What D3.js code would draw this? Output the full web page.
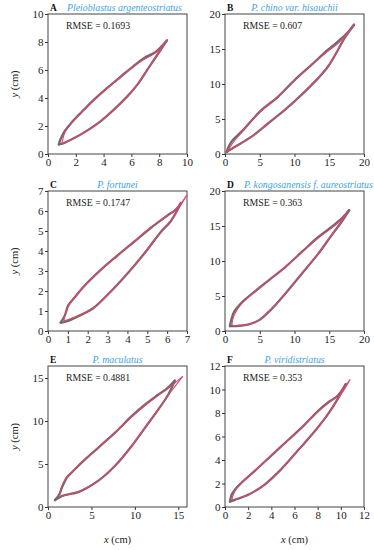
<!DOCTYPE html>
<html>
<head>
<meta charset="utf-8">
<script src="https://cdn.jsdelivr.net/npm/d3@7"></script>
<style>
  body { margin: 0; background: #fff; }
  svg text { font-family: "Liberation Serif", "Times New Roman", serif; }
</style>
</head>
<body>
<svg id="chart" width="374" height="550"></svg>
<script>
// panel info
const letters = ["A", "B", "C", "D", "E", "F"];
const species = ["Pleioblastus argenteostriatus", "P. chino var. hisauchii", "P. fortunei",
  "P. kongosanensis f. aureostriatus", "P. maculatus", "P. viridistriatus"];
const rmse = ["0.1693", "0.607", "0.1747", "0.363", "0.4881", "0.353"];
const xMax = [10, 20, 7, 20, 16, 12];
const yMax = [10, 20, 7, 20, 16.4, 12];
const xTicks = [[0, 2, 4, 6, 8, 10], [0, 5, 10, 15, 20], [0, 1, 2, 3, 4, 5, 6, 7],
  [0, 5, 10, 15, 20], [0, 5, 10, 15], [0, 2, 4, 6, 8, 10, 12]];
const yTicks = [[0, 2, 4, 6, 8, 10], [0, 5, 10, 15, 20], [0, 1, 2, 3, 4, 5, 6, 7],
  [0, 5, 10, 15, 20], [0, 5, 10, 15], [0, 2, 4, 6, 8, 10, 12]];

// observed leaf edges (gray), base -> tip
const obsUpperA = [[0.78,0.69],[0.9,1.05],[1.21,1.65],[1.7,2.25],[2.42,3.0],[3.27,3.85],[4.24,4.7],[5.2,5.5],[6.17,6.3],[6.9,6.85],[7.75,7.3],[8.55,8.1]];
const obsLowerA = [[0.78,0.69],[1.09,0.76],[1.82,1.1],[2.78,1.65],[3.75,2.31],[4.72,3.15],[5.69,4.1],[6.42,4.94],[7.14,6.01],[7.87,7.09],[8.55,8.1]];
const obsUpperB = [[0.25,0.3],[0.5,1.0],[0.96,1.8],[2.63,3.44],[5.02,6.06],[7.66,8.21],[10.05,10.6],[12.44,12.74],[14.83,14.9],[16.27,16.1],[17.7,17.4],[18.56,18.47]];
const obsLowerB = [[0.25,0.3],[1.44,1.05],[3.83,2.48],[6.22,4.39],[8.61,6.3],[11.0,8.45],[13.4,10.84],[14.83,12.5],[16.27,14.9],[17.2,16.56],[18.56,18.47]];
const obsUpperC = [[0.64,0.42],[0.85,0.78],[1.02,1.28],[1.36,1.7],[1.78,2.2],[2.63,3.03],[3.47,3.75],[4.32,4.45],[5.17,5.15],[6.02,5.78],[6.44,6.07],[6.69,6.4]];
const obsLowerC = [[0.64,0.42],[0.85,0.45],[1.61,0.78],[2.29,1.15],[3.14,1.95],[3.98,2.85],[4.83,3.85],[5.68,4.95],[6.19,5.5],[6.69,6.4]];
const obsUpperD = [[0.71,0.71],[0.95,1.76],[1.29,2.71],[2.24,3.9],[3.9,5.33],[6.29,7.24],[8.67,9.14],[11.05,11.29],[13.43,13.43],[15.33,14.86],[16.76,16.05],[17.86,17.24]];
const obsLowerD = [[0.71,0.71],[1.52,0.71],[3.43,0.95],[4.86,1.52],[6.76,3.19],[8.67,5.33],[11.05,8.19],[13.43,11.05],[15.33,13.67],[16.76,15.57],[17.86,17.24]];
const obsUpperE = [[0.8,0.8],[1.26,1.38],[1.64,2.34],[2.21,3.49],[2.79,4.07],[3.93,5.22],[5.84,6.94],[7.75,8.67],[9.66,10.59],[11.18,11.93],[12.71,13.08],[13.85,13.92],[14.6,14.7]];
const obsLowerE = [[0.8,0.8],[1.64,1.3],[3.55,1.76],[5.84,3.1],[7.75,4.83],[9.66,7.13],[11.18,9.24],[12.71,11.35],[13.85,13.08],[14.6,14.7]];
const obsUpperF = [[0.43,0.46],[0.57,1.04],[0.86,1.48],[1.57,2.2],[2.57,3.07],[4.0,4.38],[5.43,5.68],[6.86,6.99],[8.0,8.14],[8.86,8.87],[9.71,9.45],[10.43,10.46]];
const obsLowerF = [[0.43,0.46],[0.86,0.61],[2.0,1.04],[3.43,1.91],[4.86,3.22],[6.29,4.81],[7.71,6.4],[8.86,7.86],[9.71,9.16],[10.43,10.46]];

// predicted leaf edges (red)
const predUpperA = [[1.0,0.72],[1.05,1.0],[1.25,1.6],[1.7,2.22],[2.42,2.98],[3.27,3.82],[4.24,4.68],[5.2,5.48],[6.17,6.25],[6.9,6.75],[7.75,7.25],[8.6,8.18]];
const predLowerA = [[1.0,0.72],[1.82,1.1],[2.78,1.63],[3.75,2.3],[4.72,3.15],[5.69,4.1],[6.42,4.95],[7.14,6.02],[7.87,7.1],[8.6,8.18]];
const predUpperB = [[0.3,0.35],[0.6,0.8],[1.2,1.7],[2.63,3.35],[5.02,6.0],[7.66,8.2],[10.05,10.55],[12.44,12.7],[14.83,14.7],[16.27,15.8],[17.7,17.3],[18.6,18.5]];
const predLowerB = [[0.3,0.35],[1.44,1.0],[3.83,2.45],[6.22,4.39],[8.61,6.3],[11.0,8.45],[13.4,10.84],[14.83,12.5],[16.27,14.9],[17.2,16.6],[18.6,18.5]];
const predUpperC = [[0.8,0.5],[0.95,1.1],[1.36,1.72],[1.78,2.2],[2.63,3.03],[3.47,3.75],[4.32,4.45],[5.17,5.15],[6.02,5.75],[6.5,6.15],[7.0,6.8]];
const predLowerC = [[0.8,0.5],[1.61,0.8],[2.29,1.15],[3.14,1.95],[3.98,2.85],[4.83,3.85],[5.68,4.95],[6.19,5.5],[6.6,6.15],[7.0,6.8]];
const predUpperD = [[1.0,0.8],[1.1,1.6],[1.5,2.6],[2.3,3.8],[3.9,5.3],[6.29,7.24],[8.67,9.14],[11.05,11.25],[13.43,13.3],[15.33,14.7],[16.76,15.9],[17.7,17.2]];
const predLowerD = [[1.0,0.8],[1.6,0.75],[3.43,0.95],[4.86,1.55],[6.76,3.19],[8.67,5.33],[11.05,8.19],[13.43,11.05],[15.33,13.67],[16.76,15.6],[17.7,17.2]];
const predUpperE = [[1.3,1.2],[1.5,2.2],[2.1,3.4],[2.79,4.1],[3.93,5.25],[5.84,6.94],[7.75,8.67],[9.66,10.5],[11.18,11.8],[12.71,13.0],[13.85,13.8],[15.5,15.2]];
const predLowerE = [[1.3,1.2],[3.55,1.8],[5.84,3.1],[7.75,4.83],[9.66,7.13],[11.18,9.24],[12.71,11.35],[13.85,13.0],[14.6,14.0],[15.5,15.2]];
const predUpperF = [[0.6,0.6],[0.7,1.0],[0.95,1.5],[1.57,2.2],[2.57,3.07],[4.0,4.38],[5.43,5.68],[6.86,6.99],[8.0,8.1],[8.86,8.8],[9.71,9.5],[10.8,10.85]];
const predLowerF = [[0.6,0.6],[2.0,1.04],[3.43,1.91],[4.86,3.22],[6.29,4.81],[7.71,6.4],[8.86,7.86],[9.71,9.2],[10.3,10.0],[10.8,10.85]];

const obsEdges = [[obsUpperA, obsLowerA], [obsUpperB, obsLowerB], [obsUpperC, obsLowerC],
  [obsUpperD, obsLowerD], [obsUpperE, obsLowerE], [obsUpperF, obsLowerF]];
const predEdges = [[predUpperA, predLowerA], [predUpperB, predLowerB], [predUpperC, predLowerC],
  [predUpperD, predLowerD], [predUpperE, predLowerE], [predUpperF, predLowerF]];

const svg = d3.select("#chart");

// layout of the 3x2 grid
const colLeft = [48, 225];
const rowTop = [14, 191, 366];
const rowH = [140, 140, 141];
const boxW = 139;

letters.forEach((letter, i) => {
  const col = i % 2, row = Math.floor(i / 2);
  const left = colLeft[col], top = rowTop[row], h = rowH[row];

  const x = d3.scaleLinear().domain([0, xMax[i]]).range([left, left + boxW]);
  const y = d3.scaleLinear().domain([0, yMax[i]]).range([top + h, top]);

  const g = svg.append("g");

  // axes
  const xAxis = g.append("g")
    .attr("transform", `translate(0,${top + h})`)
    .call(d3.axisBottom(x).tickValues(xTicks[i]).tickFormat(d3.format("d")).tickSize(3).tickPadding(1.5));
  const yAxis = g.append("g")
    .attr("transform", `translate(${left},0)`)
    .call(d3.axisLeft(y).tickValues(yTicks[i]).tickFormat(d3.format("d")).tickSize(3).tickPadding(1.5));
  [xAxis, yAxis].forEach(a => {
    a.select(".domain").remove();
    a.selectAll("line").attr("stroke", "#333");
    a.selectAll("text").attr("font-size", 11).attr("fill", "#222")
      .style("font-family", '"Liberation Serif", serif');
  });

  // frame
  g.append("rect")
    .attr("x", left).attr("y", top).attr("width", boxW).attr("height", h)
    .attr("fill", "none").attr("stroke", "#444").attr("stroke-width", 1);

  const line = d3.line()
    .x(d => x(d[0]))
    .y(d => y(d[1]))
    .curve(d3.curveCatmullRom.alpha(0.5));

  // observed outline then predicted on top
  obsEdges[i].forEach(edge => {
    g.append("path").attr("d", line(edge))
      .attr("fill", "none").attr("stroke", "#6b6b6b")
      .attr("stroke-width", 2.3).attr("stroke-linejoin", "round").attr("stroke-linecap", "round");
  });
  predEdges[i].forEach(edge => {
    g.append("path").attr("d", line(edge))
      .attr("fill", "none").attr("stroke", "#e5436b")
      .attr("stroke-width", 1.1).attr("stroke-linejoin", "round");
  });

  // RMSE note
  g.append("text")
    .attr("x", left + 18).attr("y", top + 15)
    .attr("font-size", 9.8).attr("fill", "#222")
    .text(`RMSE = ${rmse[i]}`);

  // panel letter + species title
  const labelY = top - 3.5;
  g.append("text")
    .attr("x", left + 2).attr("y", labelY)
    .attr("font-size", 9.5).attr("font-weight", "bold").attr("fill", "#111")
    .text(letter);
  const title = g.append("text")
    .attr("y", labelY)
    .attr("font-size", 9.8).attr("font-style", "italic").attr("fill", "#3ca3e6")
    .attr("text-anchor", "middle")
    .text(species[i]);
  const tw = title.node().getComputedTextLength();
  title.attr("x", Math.max(left + boxW / 2, left + 19 + tw / 2));

  // axis titles
  if (col === 0) {
    const yl = g.append("text")
      .attr("transform", `translate(17.5,${top + h / 2}) rotate(-90)`)
      .attr("text-anchor", "middle").attr("font-size", 10.5).attr("fill", "#222");
    yl.append("tspan").attr("font-style", "italic").text("y");
    yl.append("tspan").text(" (cm)");
  }
  if (row === 2) {
    const xl = g.append("text")
      .attr("x", left + boxW / 2).attr("y", 543)
      .attr("text-anchor", "middle").attr("font-size", 10.5).attr("fill", "#222");
    xl.append("tspan").attr("font-style", "italic").text("x");
    xl.append("tspan").text(" (cm)");
  }
});
</script>
</body>
</html>
